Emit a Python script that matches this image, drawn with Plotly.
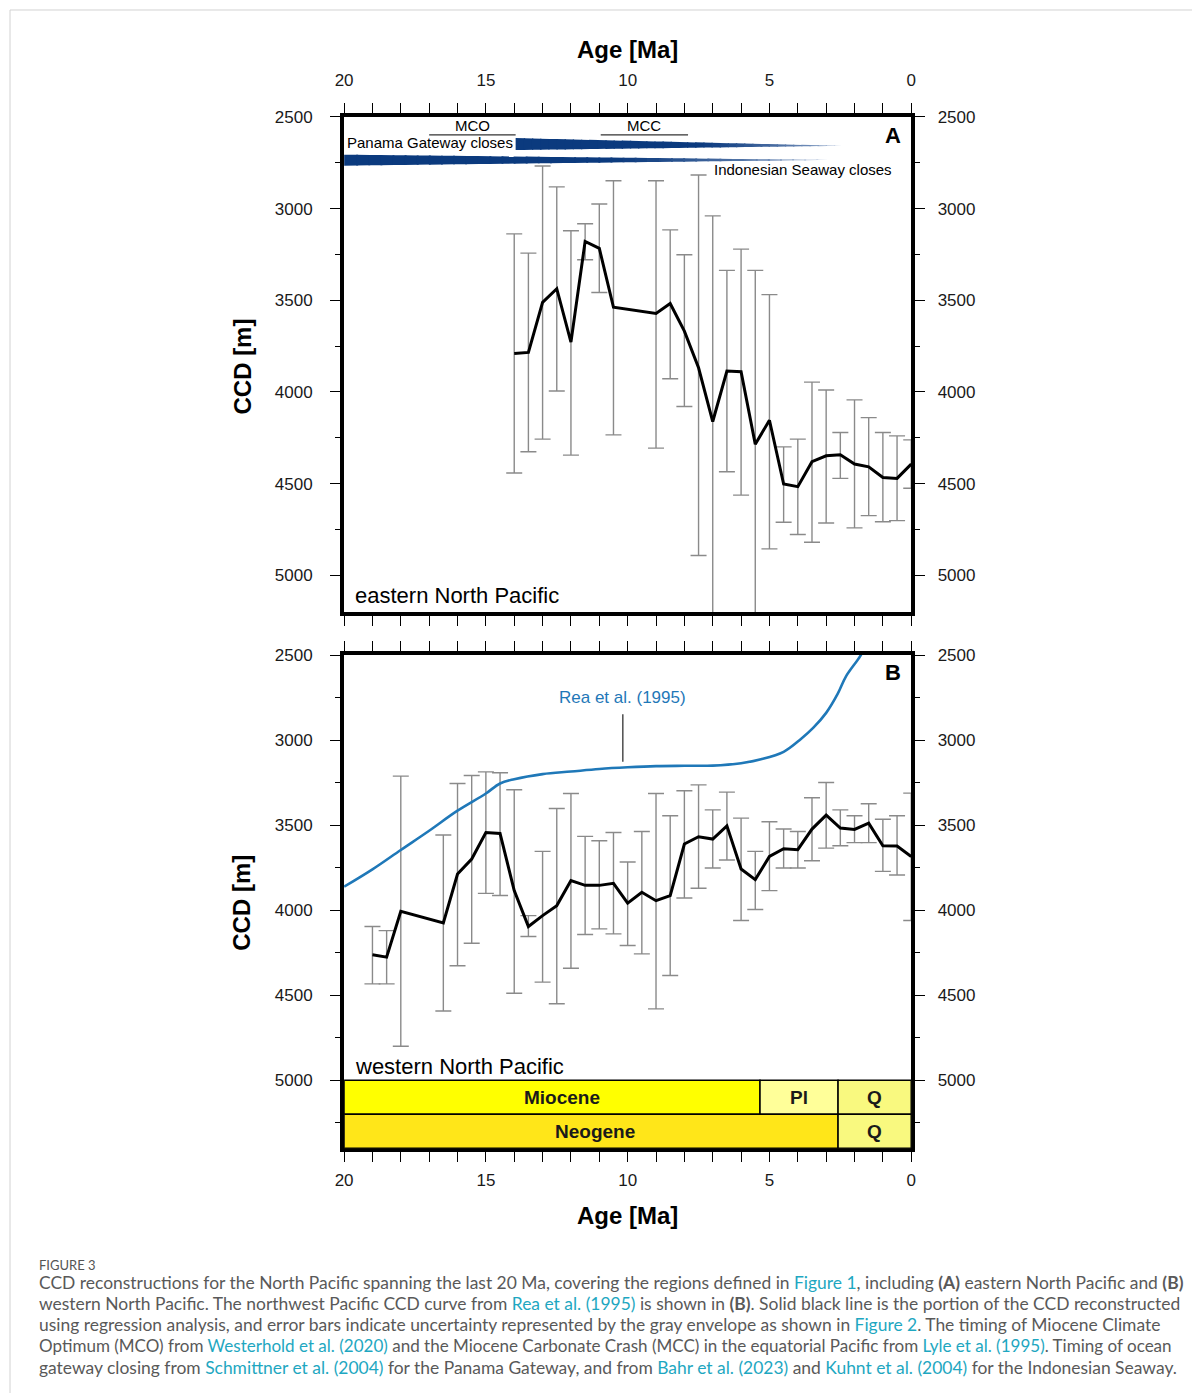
import plotly.graph_objects as go

W, H = 1192, 1393
# page-pixel -> figure-pixel calibration of the rendered page
SX, OX = 0.988, 9.0
SY, OY = 0.995, 7.0
FONT = "Liberation Sans, Arial, Helvetica, sans-serif"
CAP_FONT = "Lato, Open Sans, sans-serif"

# ---------------- data ----------------
# (A) eastern North Pacific: CCD [m] and uncertainty envelope
age_a = [14.0, 13.5, 13.0, 12.5, 12.0, 11.5, 11.0, 10.5, 9.0, 8.5, 8.0, 7.5, 7.0,
         6.5, 6.0, 5.5, 5.0, 4.5, 4.0, 3.5, 3.0, 2.5, 2.0, 1.5, 1.0, 0.5, 0.0]
ccd_a = [3790, 3784, 3511, 3437, 3728, 3179, 3217, 3538, 3572, 3518, 3668, 3868, 4161,
         3886, 3889, 4285, 4154, 4502, 4516, 4380, 4348, 4342, 4393, 4408, 4466, 4471, 4393]
ccd_a_shallow = [3138, 3243, 2768, 2882, 3121, 3083, 2975, 2848, 2848, 3116, 3252, 2817, 3040,
                 3337, 3221, 3337, 3469, 4299, 4257, 3946, 3989, 4221, 4043, 4140, 4221, 4239, 4261]
ccd_a_deep = [4442, 4326, 4257, 3995, 4344, 3279, 3458, 4234, 4306, 3928, 4079, 4891, 5282,
              4435, 4562, 5233, 4855, 4710, 4777, 4819, 4714, 4471, 4741, 4674, 4707, 4701, 4525]

# (B) western North Pacific
age_b = [19.0, 18.5, 18.0, 16.5, 16.0, 15.5, 15.0, 14.5, 14.0, 13.5, 13.0, 12.5, 12.0,
         11.5, 11.0, 10.5, 10.0, 9.5, 9.0, 8.5, 8.0, 7.5, 7.0, 6.5, 6.0, 5.5, 5.0, 4.5,
         4.0, 3.5, 3.0, 2.5, 2.0, 1.5, 1.0, 0.5, 0.0]
ccd_b = [4262, 4276, 4006, 4075, 3787, 3699, 3543, 3549, 3885, 4096, 4032, 3973, 3826,
         3854, 3854, 3842, 3959, 3895, 3944, 3914, 3611, 3568, 3582, 3504, 3758, 3820, 3684, 3639,
         3644, 3523, 3441, 3517, 3525, 3488, 3621, 3623, 3684]
ccd_b_shallow = [4096, 4120, 3212, 3558, 3255, 3208, 3187, 3192, 3292, 4032, 3654, 3402, 3314,
                 3566, 3592, 3543, 3717, 3537, 3314, 3445, 3298, 3263, 3410, 3306, 3459, 3654, 3480, 3523,
                 3537, 3339, 3249, 3410, 3445, 3374, 3465, 3445, 3312]
ccd_b_deep = [4433, 4433, 4800, 4593, 4327, 4194, 3901, 3914, 4488, 4155, 4423, 4550, 4341,
              4143, 4110, 4139, 4208, 4257, 4580, 4384, 3928, 3871, 3752, 3705, 4061, 3996, 3885, 3752,
              3752, 3709, 3635, 3621, 3603, 3603, 3772, 3793, 4061]

# Rea et al. (1995) northwest Pacific CCD
rea_age = [20.0, 19.0, 18.0, 17.0, 16.0, 15.0, 14.5, 14.0, 13.0, 12.0, 11.0, 10.0, 9.0,
           8.0, 7.0, 6.0, 5.3, 4.5, 3.9, 3.45, 3.0, 2.6, 2.3, 1.8, 1.6]
rea_ccd = [3862, 3760, 3646, 3533, 3415, 3314, 3255, 3230, 3200, 3185, 3170, 3160, 3153,
           3151, 3150, 3136, 3113, 3069, 2995, 2927, 2840, 2730, 2625, 2506, 2440]

# climate events [Ma]
event_names = ["MCO", "MCC"]
event_start = [17.0, 10.95]
event_end = [13.95, 7.87]

# ocean gateway closing intervals [Ma]
gateway_names = ["Panama Gateway closes", "Indonesian Seaway closes"]
gateway_start = [13.95, 20.0]
gateway_end = [2.44, 2.92]

# chronostratigraphy [Ma]
epoch_names = ["Miocene", "Pl", "Q"]
epoch_old = [20.0, 5.333, 2.58]
epoch_young = [5.333, 2.58, 0.0]
epoch_colors = ["#FFFF00", "#FFFF99", "#F9F97F"]
epoch_label_age = [12.3, 3.96, 1.29]
period_names = ["Neogene", "Q"]
period_old = [20.0, 2.58]
period_young = [2.58, 0.0]
period_colors = ["#FFE619", "#F9F97F"]
period_label_age = [11.15, 1.29]

# ---------------- layout geometry (page pixels) ----------------
X0, X1 = 344, 911
A_TOP, A_BOT = 115, 611
B_TOP, B_BOT = 654, 1148


def px(v):
    return ((v - OX) / SX) / W


def py(v):
    return 1 - ((v - OY) / SY) / H


xdom = [px(X0), px(X1)]
ydom_a = [py(A_BOT), py(A_TOP)]
ydom_b = [py(B_BOT), py(B_TOP)]

fig = go.Figure()

ERR = "#8a8a8a"


def add_series(age, ccd, shallow, deep, xa, ya):
    plus = [d - c for c, d in zip(ccd, deep)]
    minus = [c - s for c, s in zip(ccd, shallow)]
    fig.add_trace(go.Scatter(
        x=age, y=ccd, mode="markers", marker=dict(size=1, opacity=0),
        error_y=dict(type="data", symmetric=False, array=plus, arrayminus=minus,
                     color=ERR, thickness=1.4, width=8),
        xaxis=xa, yaxis=ya, showlegend=False, hoverinfo="skip"))
    fig.add_trace(go.Scatter(
        x=age, y=ccd, mode="lines", line=dict(color="black", width=3),
        xaxis=xa, yaxis=ya, showlegend=False, hoverinfo="skip"))


add_series(age_a, ccd_a, ccd_a_shallow, ccd_a_deep, "x", "y")
add_series(age_b, ccd_b, ccd_b_shallow, ccd_b_deep, "x2", "y2")

fig.add_trace(go.Scatter(
    x=rea_age, y=rea_ccd, mode="lines",
    line=dict(color="#1f78b8", width=2.6, shape="spline", smoothing=1.0),
    xaxis="x2", yaxis="y2", showlegend=False, hoverinfo="skip"))

# ---------------- axes ----------------
tickfont = dict(family=FONT, size=17, color="#1a1a1a")
minor_x = dict(dtick=1, tick0=0, ticklen=5, tickwidth=1.2, tickcolor="black", ticks="outside")
minor_y = dict(dtick=250, tick0=0, ticklen=5, tickwidth=1.2, tickcolor="black", ticks="outside")
xcommon = dict(range=[20, 0], dtick=5, tick0=0, ticks="outside", ticklen=10, tickwidth=1.3,
               tickcolor="black", minor=minor_x, showline=True, linewidth=4, linecolor="black",
               mirror="allticks", showgrid=False, zeroline=False, tickfont=tickfont,
               domain=xdom, fixedrange=True)
ycommon = dict(dtick=500, tick0=0, ticks="outside", ticklen=10, tickwidth=1.3, tickcolor="black",
               minor=minor_y, showgrid=False, zeroline=False, tickfont=tickfont, fixedrange=True)

fig.update_layout(
    xaxis=dict(**xcommon, anchor="y", side="top", ticklabelstandoff=10),
    xaxis2=dict(**xcommon, anchor="y2", side="bottom", ticklabelstandoff=3),
    yaxis=dict(**ycommon, range=[5200, 2500], domain=ydom_a, anchor="x", side="left",
               showline=True, linewidth=4, linecolor="black", mirror="allticks",
               ticklabelstandoff=14),
    yaxis3=dict(**ycommon, range=[5200, 2500], overlaying="y", anchor="x", side="right",
                showline=False, ticklabelstandoff=12),
    yaxis2=dict(**ycommon, range=[5400, 2500], domain=ydom_b, anchor="x2", side="left",
                showline=True, linewidth=4, linecolor="black", mirror="allticks",
                ticklabelstandoff=14),
    yaxis4=dict(**ycommon, range=[5400, 2500], overlaying="y2", anchor="x2", side="right",
                showline=False, ticklabelstandoff=12),
)
# invisible traces so the right-hand axes are drawn
fig.add_trace(go.Scatter(x=[None], y=[None], xaxis="x", yaxis="y3", showlegend=False))
fig.add_trace(go.Scatter(x=[None], y=[None], xaxis="x2", yaxis="y4", showlegend=False))

shapes = []
annotations = []

# ---------------- gateway wedges (A) ----------------
NAVY = (11, 58, 126)
FADE = (150, 172, 206)
wedge_geom = [(2616, 2681, 2658), (2706, 2766, 2735)]  # top, bottom at start; tip depth
NSEG = 40
for g in range(len(gateway_names)):
    a0, a1 = gateway_start[g], gateway_end[g]
    top0, bot0, tip = wedge_geom[g]
    for i in range(NSEG):
        t0, t1 = i / NSEG, (i + 1) / NSEG
        t1o = min(1.0, t1 + 0.004)
        xa, xb = a0 + (a1 - a0) * t0, a0 + (a1 - a0) * t1o
        ta, tb = top0 + (tip - top0) * t0, top0 + (tip - top0) * t1o
        ba, bb = bot0 + (tip - bot0) * t0, bot0 + (tip - bot0) * t1o
        tm = (t0 + t1) / 2
        f = 0.0 if tm < 0.55 else ((tm - 0.55) / 0.45) ** 1.3
        col = tuple(int(NAVY[k] + (FADE[k] - NAVY[k]) * f) for k in range(3))
        shapes.append(dict(type="path", xref="x", yref="y", layer="above",
                           path=f"M {xa},{ta} L {xb},{tb} L {xb},{bb} L {xa},{ba} Z",
                           fillcolor=f"rgb{col}", line=dict(width=0)))

annotations.append(dict(x=gateway_start[0], y=2640, xref="x", yref="y", text=gateway_names[0],
                        showarrow=False, xanchor="right", yanchor="middle", xshift=-1,
                        font=dict(family=FONT, size=15, color="black")))
annotations.append(dict(x=7.02, y=2785, xref="x", yref="y", text=gateway_names[1],
                        showarrow=False, xanchor="left", yanchor="middle",
                        font=dict(family=FONT, size=15, color="black")))

# MCO / MCC bars
for name, s, e in zip(event_names, event_start, event_end):
    shapes.append(dict(type="line", xref="x", yref="y", x0=s, x1=e, y0=2598, y1=2598,
                       line=dict(color="#333333", width=1.2), layer="above"))
    annotations.append(dict(x=(s + e) / 2, y=2545, xref="x", yref="y", text=name,
                            showarrow=False, xanchor="center", yanchor="middle",
                            font=dict(family=FONT, size=15, color="black")))

# panel letters and region names
annotations += [
    dict(x=0.64, y=2600, xref="x", yref="y", text="<b>A</b>", showarrow=False,
         font=dict(family=FONT, size=22, color="black")),
    dict(x=0.64, y=2600, xref="x2", yref="y2", text="<b>B</b>", showarrow=False,
         font=dict(family=FONT, size=22, color="black")),
    dict(x=19.68, y=5109, xref="x", yref="y", text="eastern North Pacific", showarrow=False,
         xanchor="left", yanchor="middle", font=dict(family=FONT, size=22, color="black")),
    dict(x=19.68, y=4918, xref="x2", yref="y2", text="western North Pacific", showarrow=False,
         xanchor="left", yanchor="middle", font=dict(family=FONT, size=22, color="black")),
    dict(x=10.19, y=2752, xref="x2", yref="y2", text="Rea et al. (1995)", showarrow=False,
         font=dict(family=FONT, size=17, color="#1f78b8")),
]
shapes.append(dict(type="line", xref="x2", yref="y2", x0=10.17, x1=10.17, y0=2848, y1=3128,
                   line=dict(color="#333333", width=1.3)))

# ---------------- chronostratigraphic bars (B) ----------------
for name, o, yng, c, la in zip(epoch_names, epoch_old, epoch_young, epoch_colors, epoch_label_age):
    shapes.append(dict(type="rect", xref="x2", yref="y2", x0=o, x1=yng, y0=5000, y1=5200,
                       fillcolor=c, line=dict(color="black", width=1.5), layer="above"))
    annotations.append(dict(x=la, y=5100, xref="x2", yref="y2", text=f"<b>{name}</b>",
                            showarrow=False, font=dict(family=FONT, size=19, color="#1a1a1a")))
for name, o, yng, c, la in zip(period_names, period_old, period_young, period_colors, period_label_age):
    shapes.append(dict(type="rect", xref="x2", yref="y2", x0=o, x1=yng, y0=5200, y1=5400,
                       fillcolor=c, line=dict(color="black", width=1.5), layer="above"))
    annotations.append(dict(x=la, y=5300, xref="x2", yref="y2", text=f"<b>{name}</b>",
                            showarrow=False, font=dict(family=FONT, size=19, color="#1a1a1a")))

# ---------------- axis titles ----------------
title_font = dict(family=FONT, size=24, color="black")
xc = px((X0 + X1) / 2)
annotations += [
    dict(x=xc, y=py(48), xref="paper", yref="paper", text="<b>Age [Ma]</b>", showarrow=False,
         xanchor="center", yanchor="middle", font=title_font),
    dict(x=xc, y=py(1215), xref="paper", yref="paper", text="<b>Age [Ma]</b>", showarrow=False,
         xanchor="center", yanchor="middle", font=title_font),
    dict(x=px(242), y=py(365), xref="paper", yref="paper", text="<b>CCD [m]</b>", showarrow=False,
         xanchor="center", yanchor="middle", textangle=-90, font=title_font),
    dict(x=px(242), y=py(902), xref="paper", yref="paper", text="<b>CCD [m]</b>", showarrow=False,
         xanchor="center", yanchor="middle", textangle=-90, font=title_font),
]

# ---------------- caption ----------------
LINK = "#1ea7c1"


def link(t):
    return f"<span style='color:{LINK}'>{t}</span>"


caption_lines = [
    "CCD reconstructions for the North Pacific spanning the last 20 Ma, covering the regions defined in "
    + link("Figure 1") + ", including <b>(A)</b> eastern North Pacific and <b>(B)</b>",
    "western North Pacific. The northwest Pacific CCD curve from " + link("Rea et al. (1995)")
    + " is shown in <b>(B)</b>. Solid black line is the portion of the CCD reconstructed",
    "using regression analysis, and error bars indicate uncertainty represented by the gray envelope as shown in "
    + link("Figure 2") + ". The timing of Miocene Climate",
    "Optimum (MCO) from " + link("Westerhold et al. (2020)")
    + " and the Miocene Carbonate Crash (MCC) in the equatorial Pacific from " + link("Lyle et al. (1995)")
    + ". Timing of ocean",
    "gateway closing from " + link("Schmittner et al. (2004)") + " for the Panama Gateway, and from "
    + link("Bahr et al. (2023)") + " and " + link("Kuhnt et al. (2004)") + " for the Indonesian Seaway.",
]
caption_sizes = [17.45, 17.45, 17.45, 17.05, 17.45]
annotations.append(dict(x=px(37), y=py(1265), xref="paper", yref="paper", text="FIGURE 3",
                        showarrow=False, xanchor="left", yanchor="middle",
                        font=dict(family=CAP_FONT, size=13, color="#555555")))
for i, (line, fs) in enumerate(zip(caption_lines, caption_sizes)):
    annotations.append(dict(x=px(37), y=py(1282 + 21.3 * i), xref="paper", yref="paper", text=line,
                            showarrow=False, xanchor="left", yanchor="middle",
                            font=dict(family=CAP_FONT, size=fs, color="#595959")))

# light frame around the figure
shapes.append(dict(type="rect", xref="paper", yref="paper", x0=px(10), x1=1.05, y0=-0.05, y1=py(8),
                   line=dict(color="#d2d2d2", width=1), layer="below"))

fig.update_layout(
    width=W, height=H, margin=dict(l=0, r=0, t=0, b=0),
    paper_bgcolor="white", plot_bgcolor="white",
    showlegend=False, shapes=shapes, annotations=annotations,
)

fig.write_html("out.html")
